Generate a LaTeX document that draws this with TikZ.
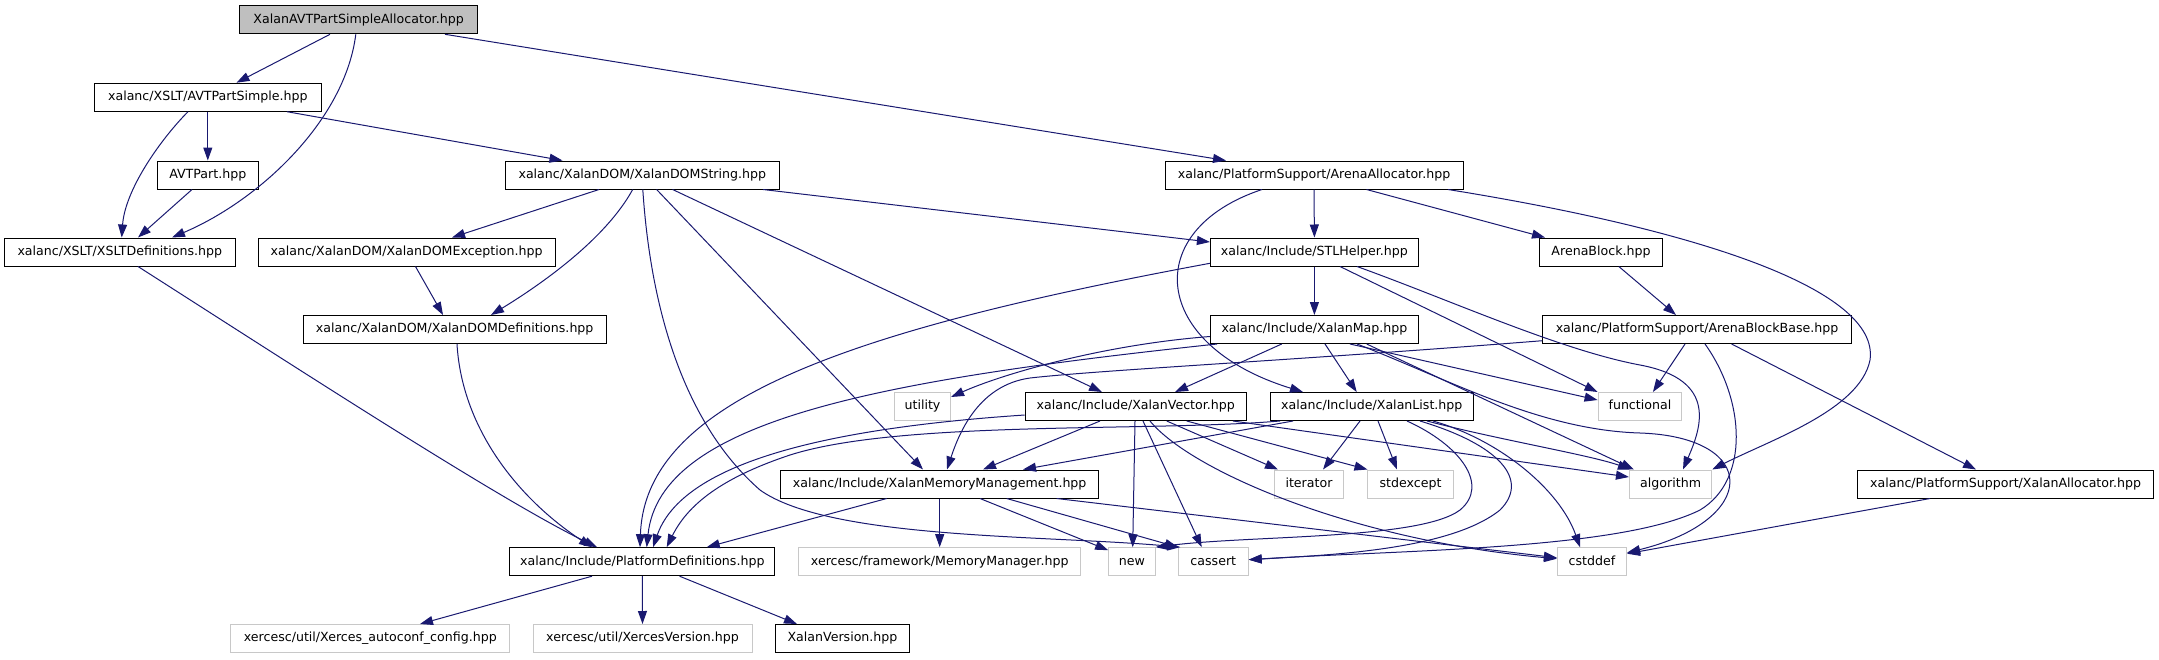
\documentclass[tikz,border=0pt]{standalone}
\usepackage{fontspec}
\setmainfont{DejaVu Sans}
\usetikzlibrary{arrows.meta}
\definecolor{edgec}{HTML}{191970}
\definecolor{boxgray}{HTML}{BFBFBF}
\definecolor{extgray}{HTML}{C8C8C8}
\tikzset{
  box/.style={draw=black, line width=1pt, minimum height=28pt, inner sep=0pt,
    text height=9.5pt, text depth=2.8pt, font=\fontsize{12.6}{15}\selectfont},
  extbox/.style={box, draw=extgray},
  topbox/.style={box, fill=boxgray},
  edge/.style={draw=edgec, line width=1pt, -{Triangle[length=13pt,width=9pt]}}
}
\begin{document}
\begin{tikzpicture}[x=1pt,y=-1pt]
\useasboundingbox (0,0) rectangle (2159,659);
% nodes
\node[topbox, minimum width=238pt] (n0) at (358.6,19.8) {XalanAVTPartSimpleAllocator.hpp};
\node[box, minimum width=226.4pt] (avtps) at (207.8,97.2) {xalanc/XSLT/AVTPartSimple.hpp};
\node[box, minimum width=101.5pt] (avtp) at (207.8,175) {AVTPart.hpp};
\node[box, minimum width=230.4pt] (xsltdef) at (119.8,252) {xalanc/XSLT/XSLTDefinitions.hpp};
\node[box, minimum width=273.4pt] (domstr) at (642.3,175) {xalanc/XalanDOM/XalanDOMString.hpp};
\node[box, minimum width=297pt] (domexc) at (406.6,252) {xalanc/XalanDOM/XalanDOMException.hpp};
\node[box, minimum width=303pt] (domdef) at (454.7,329.5) {xalanc/XalanDOM/XalanDOMDefinitions.hpp};
\node[box, minimum width=298pt] (arenaalloc) at (1314,175) {xalanc/PlatformSupport/ArenaAllocator.hpp};
\node[box, minimum width=208pt] (stlh) at (1314.4,252) {xalanc/Include/STLHelper.hpp};
\node[box, minimum width=208pt] (xmap) at (1314.4,329.5) {xalanc/Include/XalanMap.hpp};
\node[box, minimum width=123pt] (ablock) at (1601,252) {ArenaBlock.hpp};
\node[box, minimum width=308.3pt] (abbase) at (1697,329.5) {xalanc/PlatformSupport/ArenaBlockBase.hpp};
\node[box, minimum width=265.3pt] (platdef) at (642.3,561.7) {xalanc/Include/PlatformDefinitions.hpp};
\node[extbox, minimum width=278.7pt] (xauto) at (370.3,638.5) {xercesc/util/Xerces\_autoconf\_config.hpp};
\node[extbox, minimum width=219pt] (xver) at (642.5,638.5) {xercesc/util/XercesVersion.hpp};
\node[extbox, minimum width=56.2pt] (utility) at (922.5,406.5) {utility};
\node[box, minimum width=221pt] (xvec) at (1135.7,406.5) {xalanc/Include/XalanVector.hpp};
\node[box, minimum width=202.5pt] (xlist) at (1371.8,406.5) {xalanc/Include/XalanList.hpp};
\node[box, minimum width=318.4pt] (xmm) at (939.7,484) {xalanc/Include/XalanMemoryManagement.hpp};
\node[extbox, minimum width=69.3pt] (iterator) at (1309,484) {iterator};
\node[extbox, minimum width=85.3pt] (stdexcept) at (1410.6,484) {stdexcept};
\node[extbox, minimum width=281.6pt] (memmgr) at (939.7,561.7) {xercesc/framework/MemoryManager.hpp};
\node[extbox, minimum width=46.5pt] (new) at (1131.9,561.7) {new};
\node[extbox, minimum width=69.8pt] (cassert) at (1213.3,561.7) {cassert};
\node[box, minimum width=134.8pt] (xalver) at (842.5,638.5) {XalanVersion.hpp};
\node[extbox, minimum width=83.7pt] (functional) at (1639.9,406.5) {functional};
\node[extbox, minimum width=82.3pt] (algorithm) at (1670.6,484) {algorithm};
\node[box, minimum width=296.3pt] (xalloc) at (2005.6,484) {xalanc/PlatformSupport/XalanAllocator.hpp};
\node[extbox, minimum width=69.2pt] (cstddef) at (1592,561.7) {cstddef};
% edges from top
\draw[edge] ([xshift=-28.6pt]n0.south) -- ([xshift=28.7pt]avtps.north);
\draw[edge] ([xshift=-2.8pt]n0.south) .. controls (345,120) and (260,200) .. ([xshift=52.2pt]xsltdef.north);
\draw[edge] ([xshift=86.4pt]n0.south) -- ([xshift=-88pt]arenaalloc.north);
% AVTPartSimple
\draw[edge] (avtps.south) -- (avtp.north);
\draw[edge] ([xshift=-19.8pt]avtps.south) .. controls (160,140) and (125,190) .. ([xshift=1.9pt]xsltdef.north);
\draw[edge] ([xshift=79.2pt]avtps.south) -- ([xshift=-79.8pt]domstr.north);
\draw[edge] ([xshift=-15.8pt]avtp.south) -- ([xshift=18.2pt]xsltdef.north);
\draw[edge] ([xshift=18.2pt]xsltdef.south) .. controls (300,370) and (500,500) .. ([xshift=-45.3pt]platdef.north);
% XalanDOMString
\draw[edge] ([xshift=-43.3pt]domstr.south) -- ([xshift=45.4pt]domexc.north);
\draw[edge] ([xshift=-9.6pt]domstr.south) .. controls (605,240) and (540,285) .. ([xshift=36.3pt]domdef.north);
\draw[edge] ([xshift=8.9pt]domexc.south) -- ([xshift=-11.7pt]domdef.north);
\draw[edge] ([xshift=2.3pt]domdef.south) .. controls (462,430) and (520,500) .. ([xshift=-50.3pt]platdef.north);
\draw[edge] ([xshift=120.7pt]domstr.south) -- ([yshift=10pt]stlh.west);
\draw[edge] ([xshift=30.3pt]domstr.south) -- ([xshift=-33.7pt]xvec.north);
\draw[edge] ([xshift=14.3pt]domstr.south) -- ([xshift=-16.7pt]xmm.north);
\draw[edge] ([xshift=0.5pt]domstr.south) .. controls (650,300) and (680,420) .. (760,490) .. controls (830,540) and (1050,535) .. ([xshift=-33pt]cassert.north);
% XalanVector
\draw[edge] ([xshift=-35.7pt]xvec.south) -- ([xshift=43.3pt]xmm.north);
\draw[edge] ([xshift=-0.7pt]xvec.south) -- ([xshift=0.8pt]new.north);
\draw[edge] ([xshift=7.3pt]xvec.south) -- ([xshift=-11.6pt]cassert.north);
\draw[edge] ([xshift=31pt]xvec.south) -- ([xshift=-31pt]iterator.north);
\draw[edge] ([xshift=51pt]xvec.south) -- (stdexcept.north west);
\draw[edge] ([xshift=97.3pt]xvec.south) -- ([yshift=7pt]algorithm.west);
\draw[edge] ([xshift=14.3pt]xvec.south) .. controls (1190,470) and (1350,540) .. ([yshift=3pt]cstddef.west);
\draw[edge] ([yshift=-8.5pt]xvec.west) .. controls (800,430) and (680,470) .. ([xshift=10.7pt]platdef.north);
% XalanList
\draw[edge] ([xshift=-78.8pt]xlist.south) -- ([xshift=83.3pt]xmm.north);
\draw[edge] ([xshift=-91.8pt]xlist.south) .. controls (1150,432) and (900,420) .. (790,455) .. controls (730,475) and (690,500) .. ([xshift=24.4pt]platdef.north);
\draw[edge] ([xshift=-11.8pt]xlist.south) -- ([xshift=14pt]iterator.north);
\draw[edge] ([xshift=6.2pt]xlist.south) -- ([xshift=-13.6pt]stdexcept.north);
\draw[edge] ([xshift=55.2pt]xlist.south) .. controls (1500,440) and (1590,455) .. ([xshift=2pt]algorithm.north west);
\draw[edge] ([xshift=61.2pt]xlist.south) .. controls (1500,440) and (1560,490) .. ([xshift=-12pt]cstddef.north);
\draw[edge] ([xshift=35.2pt]xlist.south) .. controls (1460,445) and (1490,485) .. (1460,510) .. controls (1420,540) and (1250,535) .. (new.north east);
\draw[edge] ([xshift=48.2pt]xlist.south) .. controls (1500,445) and (1530,480) .. (1500,510) .. controls (1450,550) and (1330,555) .. ([yshift=2pt]cassert.east);
% XalanMap
\draw[edge] ([xshift=-32.7pt]xmap.south) -- ([xshift=39.3pt]xvec.north);
\draw[edge] ([xshift=10.6pt]xmap.south) -- ([xshift=-15.1pt]xlist.north);
\draw[edge] ([yshift=-7pt]xmap.west) .. controls (1100,345) and (1000,375) .. ([yshift=9.5pt]utility.east);
\draw[edge] ([xshift=-97.4pt]xmap.south) .. controls (880,380) and (660,420) .. ([xshift=4.4pt]platdef.north);
\draw[edge] ([xshift=35.6pt]xmap.south) -- ([yshift=6.5pt]functional.west);
\draw[edge] ([xshift=52.3pt]xmap.south) -- ([xshift=5pt]algorithm.north west);
\draw[edge] ([xshift=42.6pt]xmap.south) .. controls (1450,380) and (1540,430) .. (1640,433) .. controls (1760,437) and (1760,520) .. ([yshift=9pt]cstddef.east);
% STLHelper
\draw[edge] (stlh.south) -- (xmap.north);
\draw[edge] ([yshift=-11.3pt]stlh.west) .. controls (850,330) and (645,400) .. ([xshift=-2.3pt]platdef.north);
\draw[edge] ([xshift=25.6pt]stlh.south) -- (functional.north west);
\draw[edge] ([xshift=42.6pt]stlh.south) .. controls (1450,300) and (1560,350) .. (1640,365) .. controls (1720,380) and (1700,430) .. ([xshift=12.4pt]algorithm.north);
% ArenaAllocator
\draw[edge] (arenaalloc.south) -- (stlh.north);
\draw[edge] ([xshift=52.5pt]arenaalloc.south) -- ([xshift=-56pt]ablock.north);
\draw[edge] ([xshift=-52pt]arenaalloc.south) .. controls (1140,230) and (1150,345) .. ([xshift=-68.8pt]xlist.north);
\draw[edge] ([xshift=134pt]arenaalloc.south) .. controls (1700,230) and (1880,290) .. (1870,360) .. controls (1860,410) and (1770,440) .. (algorithm.north east);
% ArenaBlock / ArenaBlockBase
\draw[edge] ([xshift=17.8pt]ablock.south) -- ([xshift=-21pt]abbase.north);
\draw[edge] ([xshift=-12pt]abbase.south) -- ([xshift=13pt]functional.north);
\draw[edge] ([xshift=8pt]abbase.south) .. controls (1745,400) and (1750,480) .. (1700,510) .. controls (1620,550) and (1400,550) .. ([yshift=2pt]cassert.east);
\draw[edge] ([xshift=34.6pt]abbase.south) -- ([xshift=-29.6pt]xalloc.north);
\draw[edge] ([yshift=-11.2pt]abbase.west) .. controls (1300,360) and (1100,370) .. (1030,378) .. controls (980,385) and (960,430) .. ([xshift=7.3pt]xmm.north);
\draw[edge] ([xshift=-75.6pt]xalloc.south) -- ([yshift=8pt]cstddef.east);
% XalanMemoryManagement
\draw[edge] ([xshift=-53pt]xmm.south) -- ([xshift=64.4pt]platdef.north);
\draw[edge] (xmm.south) -- (memmgr.north);
\draw[edge] ([xshift=40.3pt]xmm.south) -- ([yshift=-3pt]new.north west);
\draw[edge] ([xshift=67pt]xmm.south) -- (cassert.north west);
\draw[edge] ([xshift=117pt]xmm.south) -- ([yshift=4pt]cstddef.west);
% PlatformDefinitions
\draw[edge] ([xshift=-50.3pt]platdef.south) -- ([xshift=49.7pt]xauto.north);
\draw[edge] (platdef.south) -- (xver.north);
\draw[edge] ([xshift=37.3pt]platdef.south) -- ([xshift=-45.5pt]xalver.north);
\end{tikzpicture}
\end{document}
